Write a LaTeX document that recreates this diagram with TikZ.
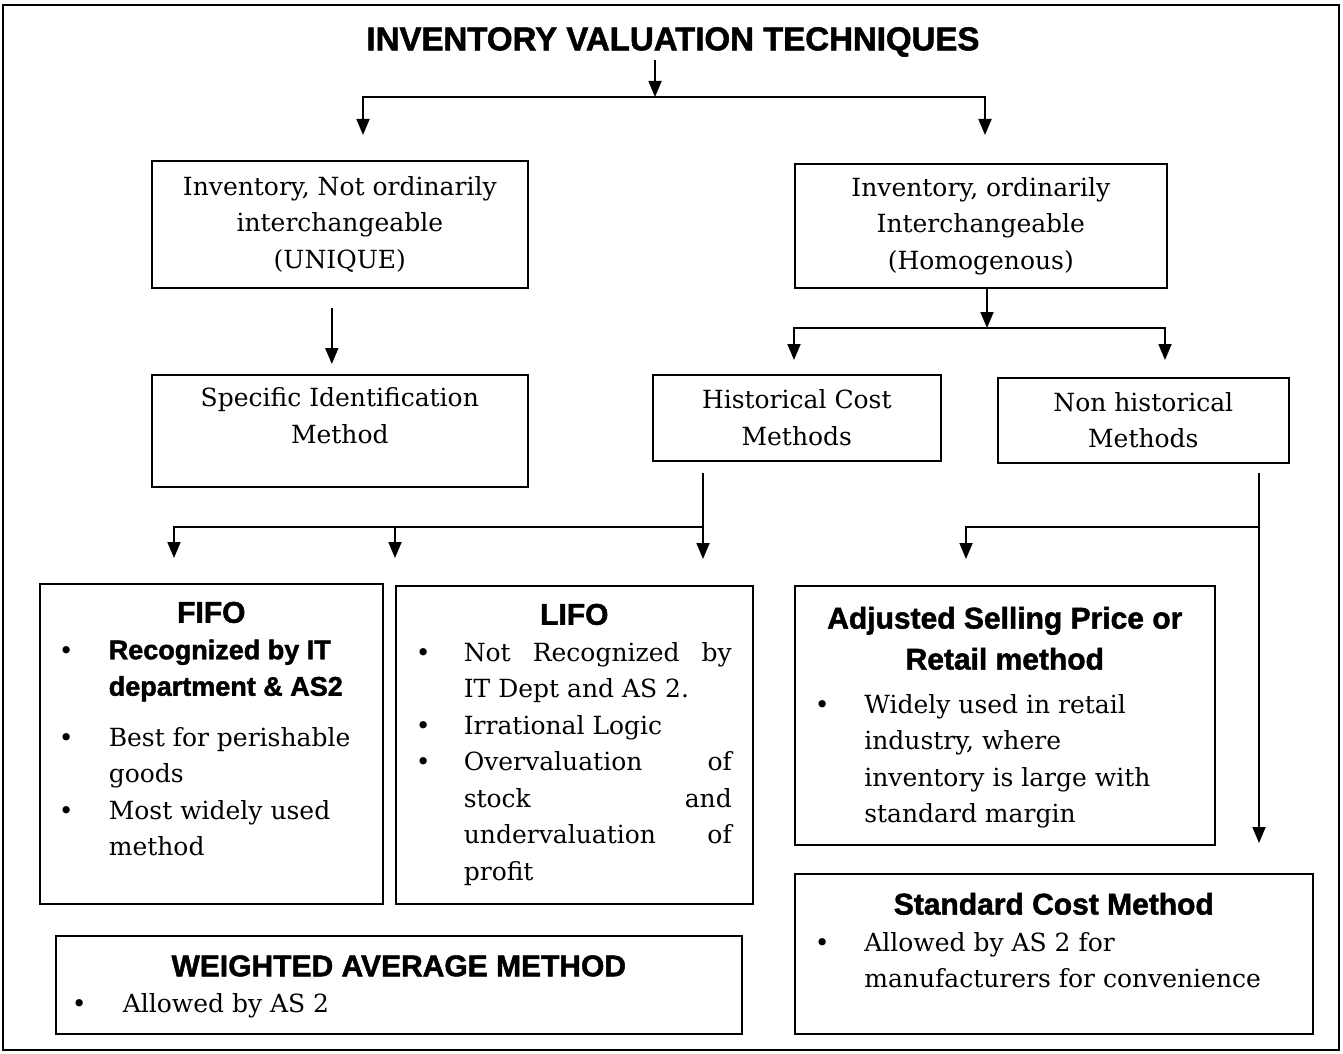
\documentclass[tikz,border=0pt]{standalone}
\usepackage{fontspec}
\setmainfont{DejaVu Serif}
\newfontfamily\headfamily{Liberation Sans}[BoldFeatures={FakeBold=1.6}]
\usetikzlibrary{positioning}
\usetikzlibrary{arrows.meta,shapes}
\usetikzlibrary{calc}

\newcommand{\txtfont}{\fontsize{25}{36.5}\selectfont}
\newcommand{\hdfont}{\headfamily\bfseries\fontsize{30}{41}\selectfont}
\newcommand{\sbfont}{\headfamily\bfseries\fontsize{27}{37}\selectfont}
\newcommand{\ttlfont}{\headfamily\bfseries\fontsize{33}{40}\selectfont}
\newlength{\bulind}
\newcommand{\bitem}[1]{\par\noindent\hangindent=\bulind\hangafter=1\makebox[\bulind][l]{\textbullet}#1\par}
\newcommand{\inbox}[3]{\parbox[c][#2][t]{#1}{#3}}

\tikzstyle{block}=[draw,line width=1.6pt,inner sep=0pt,anchor=north west,font=\txtfont]
\tikzstyle{cblock}=[block,align=center]
\tikzstyle{heading}=[inner sep=0pt,font=\ttlfont]
\tikzstyle{flow}=[draw,line width=1.8pt,-{Triangle[length=16pt,width=13pt]}]
\tikzstyle{plainflow}=[draw,line width=1.8pt,line cap=rect]

\begin{document}
\begin{tikzpicture}[x=1pt,y=-1pt]
    \path[use as bounding box,fill=white] (0,0) rectangle (1343,1054);
    \draw[line width=2pt] (3,5) rectangle (1339,1050);

    % title and first level
    \node[heading] (title) at (673,42) {INVENTORY VALUATION TECHNIQUES};

    \node[cblock,minimum width=376pt,minimum height=127pt] (uniq) at (151,160) {Inventory, Not ordinarily\\interchangeable\\(UNIQUE)};
    \node[block] (spec) at (151,374) {\inbox{376pt}{112pt}{\centering\vspace*{13pt}Specific Identification\\Method}};
    \node[cblock,minimum width=372pt,minimum height=124pt] (homog) at (794,163) {Inventory, ordinarily\\Interchangeable\\(Homogenous)};
    \node[cblock,minimum width=288pt,minimum height=86pt] (hist) at (652,374) {Historical Cost\\Methods};
    \node[cblock,minimum width=291pt,minimum height=85pt] (nonhist) at (997,377) {Non historical\\Methods};

    % the methods
    \node[block] (fifo) at (39,583) {\inbox{343pt}{320pt}{%
        \vspace*{18pt}{\centering\hdfont FIFO\par}
        \leftskip=19pt \bulind=50pt
        \bitem{{\sbfont Recognized by IT\newline department \& AS2}}\vspace{14pt}
        \bitem{Best for perishable\newline goods}
        \bitem{Most widely used\newline method}}};
    \node[block] (lifo) at (395,585) {\inbox{357pt}{318pt}{%
        \vspace*{18pt}{\centering\hdfont LIFO\par}
        \leftskip=20pt \rightskip=21pt \bulind=48pt
        \bitem{Not Recognized by\linebreak IT Dept and AS 2.}
        \bitem{Irrational Logic}
        \bitem{Overvaluation of\linebreak stock and\linebreak undervaluation of\linebreak profit}}};
    \node[block] (asp) at (794,585) {\inbox{420pt}{259pt}{%
        \vspace*{21pt}{\centering\hdfont Adjusted Selling Price or\\Retail method\par}\vspace{7pt}
        \leftskip=20pt \bulind=49.5pt
        \bitem{Widely used in retail\newline industry, where\newline inventory is large with\newline standard margin}}};
    \node[block] (scm) at (794,873) {\inbox{518pt}{160pt}{%
        \vspace*{19pt}{\centering\hdfont Standard Cost Method\par}
        \leftskip=20pt \bulind=49.5pt
        \bitem{Allowed by AS 2 for\newline manufacturers for convenience}}};
    \node[block] (wam) at (55,935) {\inbox{686pt}{98pt}{%
        \vspace*{19.5pt}{\centering\hdfont WEIGHTED AVERAGE METHOD\par}
        \leftskip=16pt \bulind=51pt
        \bitem{Allowed by AS 2}}};

    % branch points
    \foreach \name/\x/\y in {tsplit/655/97, tl/363/97, tr/985/97, tlend/363/135, trend/985/135,
        hsplit/987/328, hl/794/328, hr/1165/328, hlend/794/360, hrend/1165/360,
        hdtop/703/473, hdend/703/559, hjl/174/527, hjm/395/527, hjr/703/527,
        hjlend/174/558, hjmend/395/558,
        ndtop/1259/473, ndend/1259/843, nj/1259/527, njl/966/527, njlend/966/559}
        \coordinate (\name) at (\x,\y);

    % connectors
    \path[flow] ([xshift=-18pt,yshift=-3pt]title.south) -- (tsplit);
    \path[flow] (homog.south -| hsplit) -- (hsplit);
    \path[flow] ([xshift=-8pt,yshift=-19pt]uniq.south) -- ([xshift=-8pt,yshift=10pt]spec.north);
    \foreach \source/\dest in {tl/tr, hl/hr, hjl/hjr, nj/njl}
        \path[plainflow] (\source) -- (\dest);
    \foreach \source/\dest in {tl/tlend, tr/trend, hl/hlend, hr/hrend, hjl/hjlend, hjm/hjmend, hdtop/hdend, njl/njlend, ndtop/ndend}
        \path[flow] (\source) -- (\dest);
\end{tikzpicture}
\end{document}
